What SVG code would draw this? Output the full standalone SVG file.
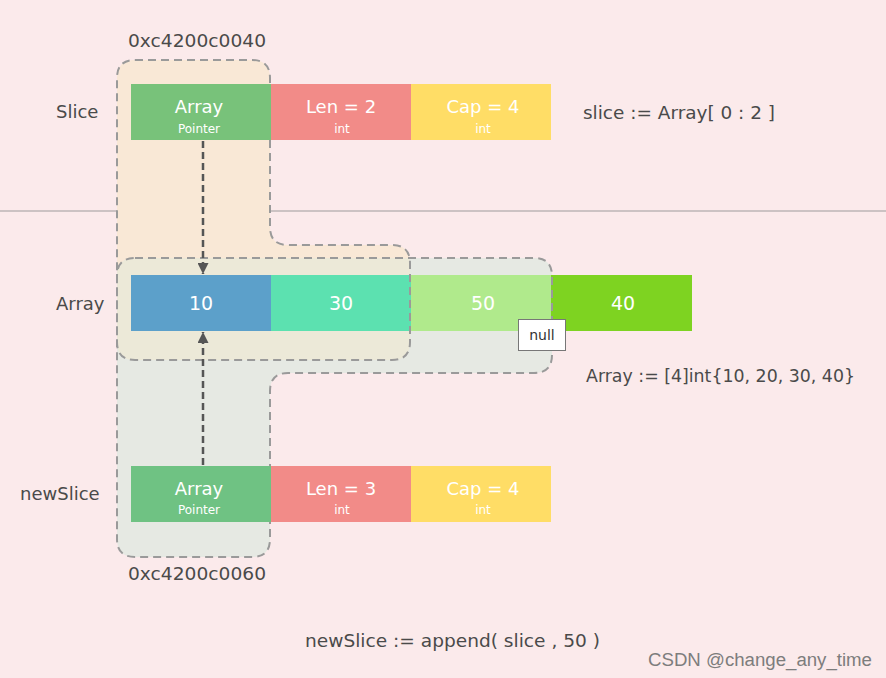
<svg xmlns="http://www.w3.org/2000/svg" width="886" height="678" viewBox="0 0 886 678">
<defs>
<style>
.t{font-family:"DejaVu Sans","Liberation Sans",sans-serif;fill:#4a4a4a;font-size:18px}
.bt{font-family:"DejaVu Sans","Liberation Sans",sans-serif;fill:#ffffff;text-anchor:middle}
.big{font-size:18px}
.sm{font-size:12px}
.val{font-size:19px}
.dash{fill:none;stroke:#9a9a9a;stroke-width:2;stroke-dasharray:8 5}
.ptr{stroke:#555;stroke-width:2.5;stroke-dasharray:7 4;fill:none}
</style>
<marker id="ah" viewBox="0 0 10 10" refX="10" refY="5" markerWidth="11" markerHeight="11" markerUnits="userSpaceOnUse" orient="auto">
<path d="M0,0 L10,5 L0,10 z" fill="#555"/>
</marker>
<path id="slicePath" d="M135,60 H252 Q270,60 270,78 V227 Q270,245 288,245 H392 Q410,245 410,263 V342 Q410,360 392,360 H135 Q117,360 117,342 V78 Q117,60 135,60 Z"/>
<path id="newPath" d="M135,258 H534 Q552,258 552,276 V355 Q552,373 534,373 H288 Q270,373 270,391 V539 Q270,557 252,557 H135 Q117,557 117,539 V276 Q117,258 135,258 Z"/>
<clipPath id="clipSlice"><use href="#slicePath"/></clipPath>
</defs>
<rect width="886" height="678" fill="#fbeaeb"/>
<line x1="0" y1="211" x2="886" y2="211" stroke="#bdb5b6" stroke-width="1.5"/>

<g id="regions-fill">
<use href="#slicePath" fill="#f9e8d6"/>
<use href="#newPath" fill="#e6e9e3"/>
<use href="#newPath" fill="#ece9d8" clip-path="url(#clipSlice)"/>
</g>

<g id="array">
<rect x="131" y="275" width="140" height="56" fill="#5ca0ca"/>
<text class="bt val" x="201" y="310">10</text>
<rect x="271" y="275" width="140" height="56" fill="#5ce1b0"/>
<text class="bt val" x="341" y="310">30</text>
<rect x="411" y="275" width="140" height="56" fill="#b0ea8c"/>
<text class="bt val" x="483" y="310">50</text>
<rect x="551" y="275" width="141" height="56" fill="#7ed321"/>
<text class="bt val" x="623" y="310">40</text>
</g>

<g id="regions-outline">
<use href="#slicePath" class="dash"/>
<use href="#newPath" class="dash"/>
</g>

<g id="slice">
<rect x="131" y="84" width="140" height="56" fill="#78c27a"/>
<text class="bt big" x="199" y="113">Array</text>
<text class="bt sm" x="199" y="133">Pointer</text>
<rect x="271" y="84" width="140" height="56" fill="#f28b88"/>
<text class="bt big" x="341" y="113">Len = 2</text>
<text class="bt sm" x="342" y="133">int</text>
<rect x="411" y="84" width="140" height="56" fill="#ffdd66"/>
<text class="bt big" x="483" y="113">Cap = 4</text>
<text class="bt sm" x="483" y="133">int</text>
</g>

<g id="newSlice">
<rect x="131" y="466" width="140" height="56" fill="#6fc283"/>
<text class="bt big" x="199" y="495">Array</text>
<text class="bt sm" x="199" y="514">Pointer</text>
<rect x="271" y="466" width="140" height="56" fill="#f28b88"/>
<text class="bt big" x="341" y="495">Len = 3</text>
<text class="bt sm" x="342" y="514">int</text>
<rect x="411" y="466" width="140" height="56" fill="#ffdd66"/>
<text class="bt big" x="483" y="495">Cap = 4</text>
<text class="bt sm" x="483" y="514">int</text>
</g>

<g id="connectors">
<line class="ptr" x1="203" y1="141" x2="203" y2="274" marker-end="url(#ah)"/>
<line class="ptr" x1="203" y1="465" x2="203" y2="332" marker-end="url(#ah)"/>
</g>

<g id="null">
<rect x="518.5" y="319.5" width="47" height="31" fill="#ffffff" stroke="#777" stroke-width="1"/>
<text x="542" y="340" text-anchor="middle" style="font-family:'DejaVu Sans','Liberation Sans',sans-serif;font-size:14px;fill:#333">null</text>
</g>

<g id="labels">
<text class="t" x="197" y="47" text-anchor="middle" textLength="138" lengthAdjust="spacingAndGlyphs">0xc4200c0040</text>
<text class="t" x="197" y="580" text-anchor="middle" textLength="138" lengthAdjust="spacingAndGlyphs">0xc4200c0060</text>
<text class="t" x="56" y="118">Slice</text>
<text class="t" x="56" y="310">Array</text>
<text class="t" x="20" y="500">newSlice</text>
<text class="t" x="583" y="119" textLength="192" lengthAdjust="spacingAndGlyphs">slice := Array[ 0 : 2 ]</text>
<text class="t" x="586" y="382" textLength="269" lengthAdjust="spacingAndGlyphs">Array := [4]int{10, 20, 30, 40}</text>
<text class="t" x="305" y="647" textLength="295" lengthAdjust="spacingAndGlyphs">newSlice := append( slice , 50 )</text>
<text x="648" y="666" textLength="224" lengthAdjust="spacingAndGlyphs" style="font-family:'Liberation Sans',sans-serif;font-size:18px;fill:#7d7d7d">CSDN @change_any_time</text>
</g>
</svg>
